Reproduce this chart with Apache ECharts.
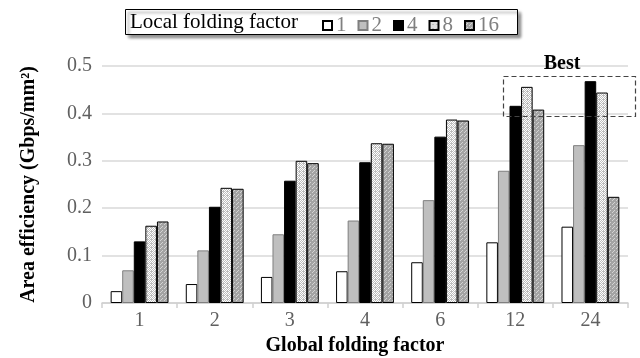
<!DOCTYPE html>
<html>
<head>
<meta charset="utf-8">
<script src="https://cdn.jsdelivr.net/npm/echarts@6/dist/echarts.min.js"></script>
<style>html,body{margin:0;padding:0;background:#fff}#c{width:640px;height:358px}</style>
</head>
<body>
<div id="c"></div>
<script>
var categories = ['1', '2', '3', '4', '6', '12', '24'];
var seriesNames = ['1', '2', '4', '8', '16'];
var local1  = [0.025, 0.040, 0.055, 0.067, 0.086, 0.128, 0.161];
var local2  = [0.069, 0.111, 0.145, 0.174, 0.217, 0.279, 0.333];
var local4  = [0.130, 0.203, 0.258, 0.297, 0.351, 0.416, 0.468];
var local8  = [0.163, 0.243, 0.300, 0.337, 0.387, 0.456, 0.444];
var local16 = [0.172, 0.241, 0.295, 0.336, 0.385, 0.408, 0.224];
var yTicks = [0, 0.1, 0.2, 0.3, 0.4, 0.5];

function makePattern(bg, fg, pts, size) {
  var cv = document.createElement('canvas');
  cv.width = size; cv.height = size;
  var ctx = cv.getContext('2d');
  ctx.fillStyle = bg; ctx.fillRect(0, 0, size, size);
  ctx.fillStyle = fg;
  pts.forEach(function (p) { ctx.fillRect(p[0], p[1], 1, 1); });
  return { image: cv, repeat: 'repeat' };
}
var pat8 = makePattern('#bdbdbd', '#ffffff', [[0,0],[2,0],[1,1],[3,1],[0,2],[2,2],[1,3]], 4);
var pat16 = makePattern('#a3a3a3', '#d4d4d4', [[0,0],[2,2],[1,3]], 4);

var FONT = 'Liberation Serif';
var chart = echarts.init(document.getElementById('c'));
var styles = [
  { color: '#ffffff', borderColor: '#000', borderWidth: 1 },
  { color: '#bfbfbf', borderColor: '#7f7f7f', borderWidth: 1 },
  { color: '#000000', borderColor: '#000', borderWidth: 1 },
  { color: pat8, borderColor: '#000', borderWidth: 1 },
  { color: pat16, borderColor: '#000', borderWidth: 1 }
];
var dataSets = [local1, local2, local4, local8, local16];
var series = dataSets.map(function (d, i) {
  return {
    name: seriesNames[i], type: 'bar', data: d,
    barGap: '0%', barCategoryGap: '23%',
    itemStyle: styles[i], emphasis: { disabled: true }
  };
});

chart.setOption({
  animation: false,
  grid: { left: 102, right: 12, top: 66, bottom: 55, containLabel: false, outerBoundsMode: 'none' },
  legend: {
    data: seriesNames, left: 317, top: 10,
    itemWidth: 9, itemHeight: 9, itemGap: 11, icon: 'rect',
    textStyle: { fontFamily: FONT, fontSize: 21, color: '#808080', padding: [0, 0, 0, -1] }
  },
  xAxis: {
    type: 'category', data: categories,
    axisLine: { lineStyle: { color: '#d0d0d0', width: 1.5 } },
    axisTick: { show: true, length: 5, lineStyle: { color: '#d0d0d0', width: 1.5 } },
    axisLabel: { fontFamily: FONT, fontSize: 20, color: '#606060', margin: 8 },
    name: 'Global folding factor', nameLocation: 'middle', nameGap: 29,
    nameTextStyle: { fontFamily: FONT, fontSize: 20, fontWeight: 'bold', color: '#000', padding: [0, 20, 0, 0] }
  },
  yAxis: {
    type: 'value', min: 0, max: 0.5, interval: 0.1,
    axisLine: { show: false }, axisTick: { show: false },
    splitLine: { lineStyle: { color: '#d9d9d9', width: 1.5 } },
    axisLabel: { fontFamily: FONT, fontSize: 20, color: '#606060', margin: 10,
      formatter: function (v) { return yTicks.indexOf(Math.round(v * 10) / 10) >= 0 ? String(Math.round(v * 10) / 10) : ''; } },
    name: 'Area efficiency (Gbps/mm²)', nameLocation: 'middle', nameGap: 63, nameRotate: 90,
    nameTextStyle: { fontFamily: FONT, fontSize: 20, fontWeight: 'bold', color: '#000' }
  },
  graphic: [
    { type: 'rect', left: 125, top: 9, z: -1,
      shape: { width: 392, height: 25 },
      style: { fill: '#fff', stroke: '#000', lineWidth: 1, shadowColor: 'rgba(0,0,0,0.45)', shadowBlur: 3, shadowOffsetX: 3, shadowOffsetY: 3 } },
    { type: 'text', x: 130, y: 22, z: 10,
      style: { text: 'Local folding factor', fontFamily: FONT, fontSize: 21, fill: '#000', verticalAlign: 'middle' } },
    { type: 'rect', left: 501, top: 74, z: 20,
      shape: { width: 132, height: 40 },
      style: { fill: 'none', stroke: '#444', lineWidth: 1.2, lineDash: [5, 3] } },
    { type: 'text', x: 562, y: 64, z: 20,
      style: { text: 'Best', fontFamily: FONT, fontSize: 20, fontWeight: 'bold', fill: '#000', align: 'center', verticalAlign: 'middle' } }
  ],
  series: series
});
</script>
</body>
</html>
